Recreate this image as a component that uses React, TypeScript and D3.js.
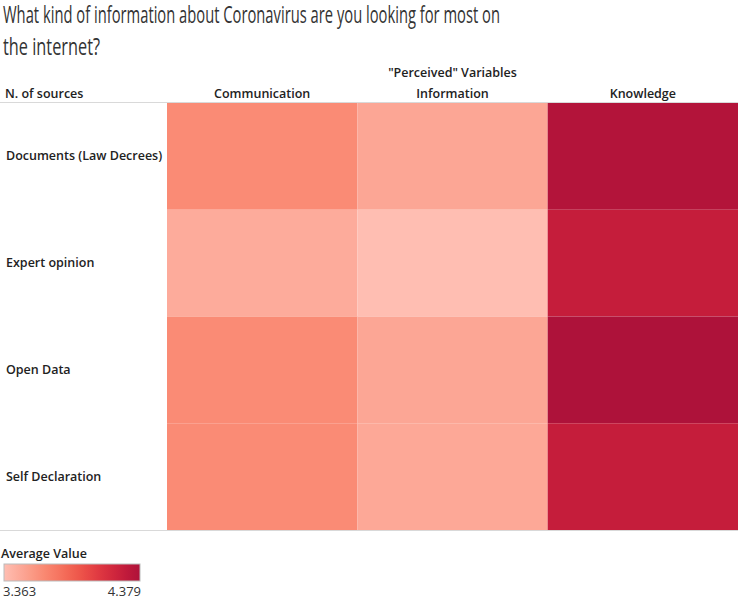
import React from "react";
import * as d3 from "d3";

const columns = ["Communication", "Information", "Knowledge"];
const rows = ["Documents (Law Decrees)", "Expert opinion", "Open Data", "Self Declaration"];
const communication = [3.65, 3.47, 3.65, 3.65];
const information = [3.5, 3.363, 3.5, 3.49];
const knowledge = [4.35, 4.25, 4.379, 4.25];
const legendMin = 3.363;
const legendMax = 4.379;
const tableauReds = ["#ffbeb2", "#feb4a6", "#fdab9b", "#fca290", "#fb9984", "#fa8f79", "#f9856e", "#f77b66", "#f5715d", "#f36754", "#f05c4d", "#ec5049", "#e74545", "#e13b42", "#da323f", "#d3293d", "#ca223c", "#c11a3b", "#b8163a", "#ae123a"];

const W = 740, H = 601;
const font = "'Open Sans', 'Noto Sans', sans-serif";
const sx = 0.6;

export default function App() {
  const series = [communication, information, knowledge];
  const x = d3.scaleBand<string>().domain(columns).range([167, 738]).padding(0);
  const y = d3.scaleBand<string>().domain(rows).range([103, 530]).padding(0);
  const interp = d3.interpolateRgbBasis(tableauReds);
  const color = d3.scaleSequential((t: number) => interp(t)).domain([legendMin, legendMax]);
  const legendX = d3.scaleLinear().domain([legendMin, legendMax]).range([4, 140]);
  const stops = d3.range(0, 1.0001, 0.05);

  return (
    <svg width={W} height={H} style={{ position: "absolute", left: 0, top: 0 }} fontFamily={font}>
      <defs>
        <linearGradient id="lg" x1="0" x2="1" y1="0" y2="0">
          {stops.map((s) => (
            <stop key={s} offset={s} stopColor={interp(s)} />
          ))}
        </linearGradient>
      </defs>
      <rect width={W} height={H} fill="#fff" />
      <g transform={`translate(3,23) scale(${sx},1)`}>
        <text x={0} y={0} fontSize={23} fill="#333" fontWeight={400} textLength={497 / sx} lengthAdjust="spacingAndGlyphs">
          What kind of information about Coronavirus are you looking for most on
        </text>
        <text x={0} y={32} fontSize={23} fill="#333" fontWeight={400} textLength={97 / sx} lengthAdjust="spacingAndGlyphs">
          the internet?
        </text>
      </g>
      <text x={(x("Information") as number) + x.bandwidth() / 2} y={77} fontSize={12.5} textAnchor="middle" fill="#222" fontWeight={600}>
        "Perceived" Variables
      </text>
      <text x={5} y={98} fontSize={12.5} fill="#222" fontWeight={600}>N. of sources</text>
      {columns.map((c) => (
        <text key={c} x={(x(c) as number) + x.bandwidth() / 2} y={98} fontSize={12.5} textAnchor="middle" fill="#222" fontWeight={600}>
          {c}
        </text>
      ))}
      {rows.map((r, i) =>
        columns.map((c, j) => (
          <rect key={r + c} x={x(c)} y={y(r)} width={x.bandwidth()} height={y.bandwidth()} fill={color(series[j][i])} />
        ))
      )}
      {rows.map((r) => (
        <text key={r} x={6} y={(y(r) as number) + y.bandwidth() / 2 + 4} fontSize={12.5} fill="#222" fontWeight={600}>
          {r}
        </text>
      ))}
      <line x1={0} x2={738} y1={102.5} y2={102.5} stroke="#d9d9d9" />
      <line x1={0} x2={738} y1={530.5} y2={530.5} stroke="#d9d9d9" />
      <text x={1} y={558} fontSize={12.5} fill="#222" fontWeight={600}>Average Value</text>
      <rect x={legendX(legendMin)} y={564} width={legendX(legendMax) - legendX(legendMin)} height={17} fill="url(#lg)" stroke="#bbb" />
      <text x={3} y={596} fontSize={13} fill="#333">{legendMin.toFixed(3)}</text>
      <text x={141} y={596} fontSize={13} fill="#333" textAnchor="end">{legendMax.toFixed(3)}</text>
    </svg>
  );
}
